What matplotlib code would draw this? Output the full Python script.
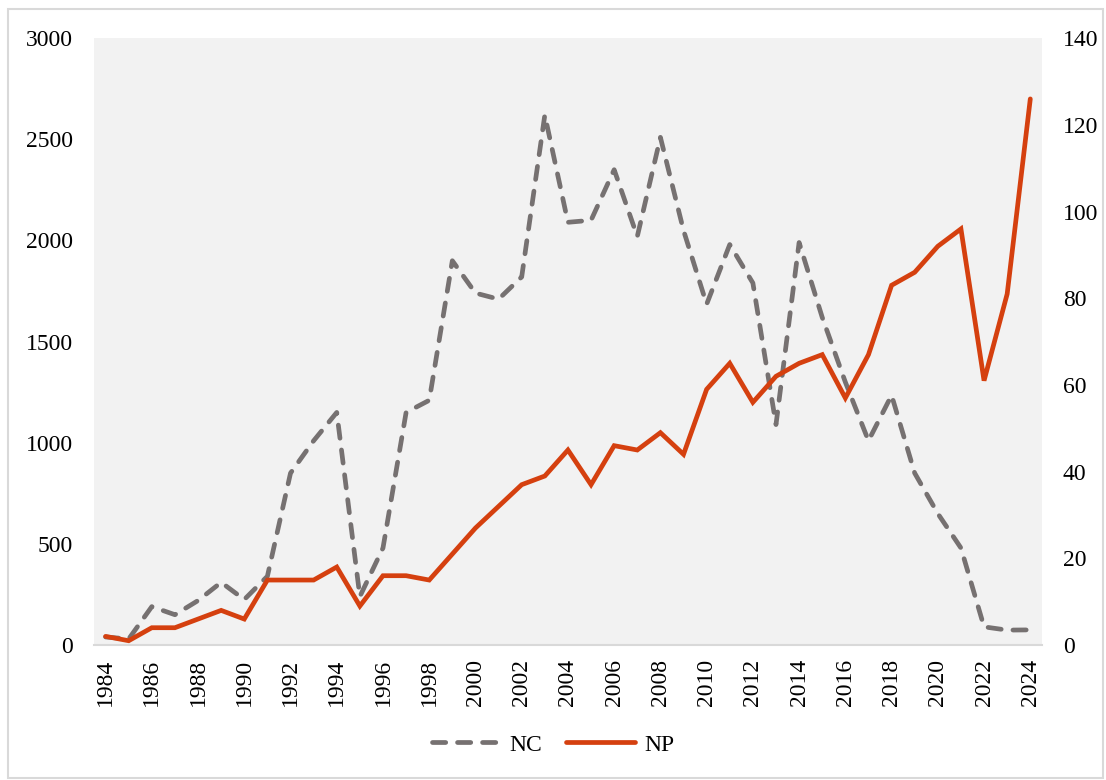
import matplotlib
matplotlib.use("Agg")
import matplotlib.pyplot as plt
from matplotlib.patches import Rectangle

plt.rcParams['font.family'] = ['Liberation Serif', 'DejaVu Serif']

# Data
years = list(range(1984, 2025))
nc = [40, 30, 190, 150, 220, 310, 225, 340, 850, 1010, 1150, 240, 480, 1150, 1210,
      1900, 1740, 1710, 1820, 2620, 2090, 2100, 2350, 2020, 2510, 2050, 1685,
      1980, 1790, 1090, 1990, 1620, 1300, 1010, 1235, 850, 650, 480, 90, 74, 75]
np_vals = [2, 1, 4, 4, 6, 8, 6, 15, 15, 15, 18, 9, 16, 16, 15,
           21, 27, 32, 37, 39, 45, 37, 46, 45, 49, 44, 59,
           65, 56, 62, 65, 67, 57, 67, 83, 86, 92, 96, 61, 81, 126]
left_ticks = [0, 500, 1000, 1500, 2000, 2500, 3000]
right_ticks = [0, 20, 40, 60, 80, 100, 120, 140]

nc_color = '#767171'
np_color = '#D5400F'

fig = plt.figure(figsize=(11.06, 7.80), dpi=100)
ax = fig.add_axes([0.085, 0.173, 0.857, 0.778])
ax2 = ax.twinx()

ax.set_facecolor('#F2F2F2')
l1, = ax.plot(years, nc, color=nc_color, linewidth=3.4, linestyle=(0, (2.8, 2.5)),
              dash_capstyle='round', dash_joinstyle='round', label='NC')
l2, = ax2.plot(years, np_vals, color=np_color, linewidth=3.4,
               solid_capstyle='round', solid_joinstyle='miter', label='NP')
ax.set_zorder(0)
ax2.set_zorder(1)
ax2.patch.set_visible(False)

ax.set_xlim(1983.5, 2024.5)
ax.set_ylim(0, 3000)
ax2.set_ylim(0, 140)
ax.set_yticks(left_ticks)
ax2.set_yticks(right_ticks)
ax.set_xticks(years[::2])
ax.set_xticklabels([str(y) for y in years[::2]], rotation=90)

for a in (ax, ax2):
    for s in a.spines.values():
        s.set_visible(False)
    a.tick_params(length=0, labelsize=17)
ax.spines['bottom'].set_visible(True)
ax.spines['bottom'].set_color('#D9D9D9')
ax.spines['bottom'].set_linewidth(1.5)
ax.tick_params(axis='y', pad=15)
ax2.tick_params(axis='y', pad=15)
ax.tick_params(axis='x', pad=10)

fig.legend(handles=[l1, l2], loc='center', bbox_to_anchor=(0.5, 0.045), ncol=2,
           frameon=False, fontsize=17, handlelength=2.9, columnspacing=1.0,
           handletextpad=0.4)

fig.patches.append(Rectangle((0.007, 0.003), 0.99, 0.985, transform=fig.transFigure,
                             fill=False, edgecolor='#D9D9D9', linewidth=1.5))

fig.savefig('out.png', dpi=100)
